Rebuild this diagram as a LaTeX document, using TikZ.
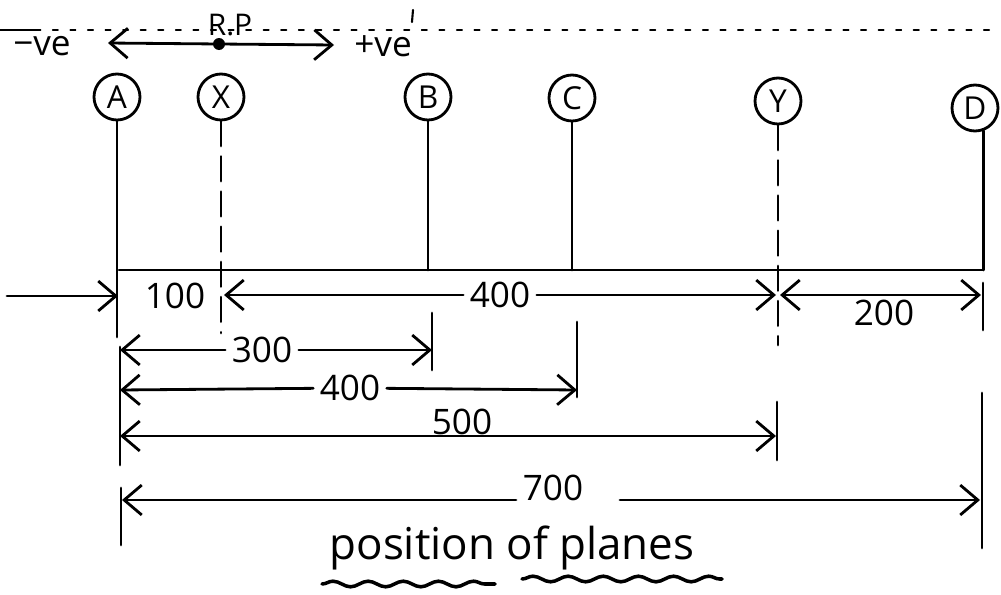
\documentclass[tikz,border=0pt]{standalone}
\usepackage{fontspec}
\setmainfont{Open Sans}
\usetikzlibrary{arrows.meta,decorations.pathmorphing}
\begin{document}
\begin{tikzpicture}[x=0.02cm,y=-0.02cm,line width=1.6pt,line cap=round,
  plane/.style={circle,draw,line width=1.6pt,minimum size=0.92cm,inner sep=0pt,font=\fontsize{18}{20}\selectfont},
  dimtip/.style={-{Straight Barb[length=10pt,width=17pt,line width=1.6pt]}},
  dimboth/.style={{Straight Barb[length=10pt,width=17pt,line width=1.6pt]}-{Straight Barb[length=10pt,width=17pt,line width=1.6pt]}},
  num/.style={inner sep=3pt,font=\fontsize{20}{22}\selectfont},
  dashline/.style={dash pattern=on 14pt off 6pt},
  wavy/.style={decorate,decoration={snake,amplitude=1.6pt,segment length=20pt},line width=2pt}]
\useasboundingbox (0,0) rectangle (1001,595);

% top dotted reference line
\draw[line width=1pt,dash pattern=on 3pt off 7pt] (0,30) -- (1001,30);
\draw[line width=1.5pt] (0,30) -- (40,30);
\draw[line width=1.2pt] (413,10) -- (412,22);

% R.P and direction arrows
\coordinate (rp) at (219,44);
\fill (rp) circle (6);
\node[font=\fontsize{17}{19}\selectfont] (rptext) at (230,25) {R.P};
\node[num] (neg) at (42,46) {−ve};
\node[num] (pos) at (383,46) {+ve};
\coordinate (negend) at (108,43);
\coordinate (posend) at (334,45);
\draw[dimtip] (rp) -- (negend);
\draw[dimtip] (rp) -- (posend);

% planes
\node[plane] (A) at (117,97) {A};
\node[plane] (X) at (221,97) {X};
\node[plane] (B) at (428,97) {B};
\node[plane] (C) at (572,98) {C};
\node[plane] (Y) at (778,101) {Y};
\node[plane] (D) at (975,108) {D};

% vertical lines
\coordinate (Abase) at (119,270);
\coordinate (A1) at (119,337);
\coordinate (A2a) at (120,347);
\coordinate (A2b) at (120,465);
\coordinate (A3a) at (121,488);
\coordinate (A3b) at (121,545);
\draw (A) -- (A.south |- A1);
\draw (A2a) -- (A2b);
\draw (A3a) -- (A3b);

\coordinate (Xend) at (223,333);
\draw[dashline] (X) -- (X.south |- Xend);

\coordinate (Bbase) at (429,270);
\draw (B) -- (B.south |- Bbase);
\coordinate (Bt1) at (432,313);
\coordinate (Bt2) at (432,370);
\draw (Bt1) -- (Bt2);

\coordinate (Cbase) at (573,270);
\draw (C) -- (C.south |- Cbase);
\coordinate (Ct1) at (577,322);
\coordinate (Ct2) at (577,397);
\draw (Ct1) -- (Ct2);

\coordinate (Yend) at (778,345);
\draw[dashline] (Y) -- (Y.south |- Yend);
\coordinate (Yt1) at (777,402);
\coordinate (Yt2) at (777,460);
\draw (Yt1) -- (Yt2);

\coordinate (Dbase) at (983,270);
\draw (D.-70) -- (D.-70 |- Dbase);
\coordinate (Dt1) at (983,283);
\coordinate (Dt2) at (983,330);
\draw (Dt1) -- (Dt2);
\coordinate (Dt3) at (982,393);
\coordinate (Dt4) at (982,548);
\draw (Dt3) -- (Dt4);

% baseline
\draw (Abase) -- (Dbase);

% row 1
\coordinate (in0) at (7,296);
\coordinate (inA) at (118,296);
\draw[dimtip] (in0) -- (inA);
\node[num] (t100) at (175,296) {100};
\node[num] (t400a) at (500,295) {400};
\coordinate (r1X) at (224,295);
\coordinate (r1Y) at (776,295);
\draw[dimtip] (t400a) -- (r1X);
\draw[dimtip] (t400a) -- (r1Y);
\coordinate (r1Yb) at (780,295);
\coordinate (r1D) at (981,295);
\draw[dimboth] (r1Yb) -- (r1D);
\node[num] (t200) at (884,313) {200};

% row 2
\node[num] (t300) at (262,350) {300};
\coordinate (r2A) at (120,350);
\coordinate (r2B) at (432,350);
\draw[dimtip] (t300) -- (r2A);
\draw[dimtip] (t300) -- (r2B);

% row 3
\node[num] (t400b) at (350,388) {400};
\coordinate (r3A) at (120,390);
\coordinate (r3C) at (577,390);
\draw[dimtip] (t400b) -- (r3A);
\draw[dimtip] (t400b) -- (r3C);

% row 4
\node[num] (t500) at (462,422) {500};
\coordinate (r4A) at (120,436);
\coordinate (r4Y) at (776,436);
\draw[dimboth] (r4A) -- (r4Y);

% row 5
\node[num] (t700) at (553,488) {700};
\coordinate (r5A) at (122,500);
\coordinate (r5D) at (980,500);
\coordinate (r5L) at (516,500);
\coordinate (r5R) at (620,500);
\draw[dimtip] (r5L) -- (r5A);
\draw[dimtip] (r5R) -- (r5D);

% title
\node[font=\fontsize{25}{28}\selectfont] (title) at (512,548) {position of planes};
\coordinate (u1a) at (322,584);
\coordinate (u1b) at (495,584);
\coordinate (u2a) at (522,579);
\coordinate (u2b) at (722,579);
\draw[wavy] (u1a) -- (u1b);
\draw[wavy] (u2a) -- (u2b);
\end{tikzpicture}
\end{document}
